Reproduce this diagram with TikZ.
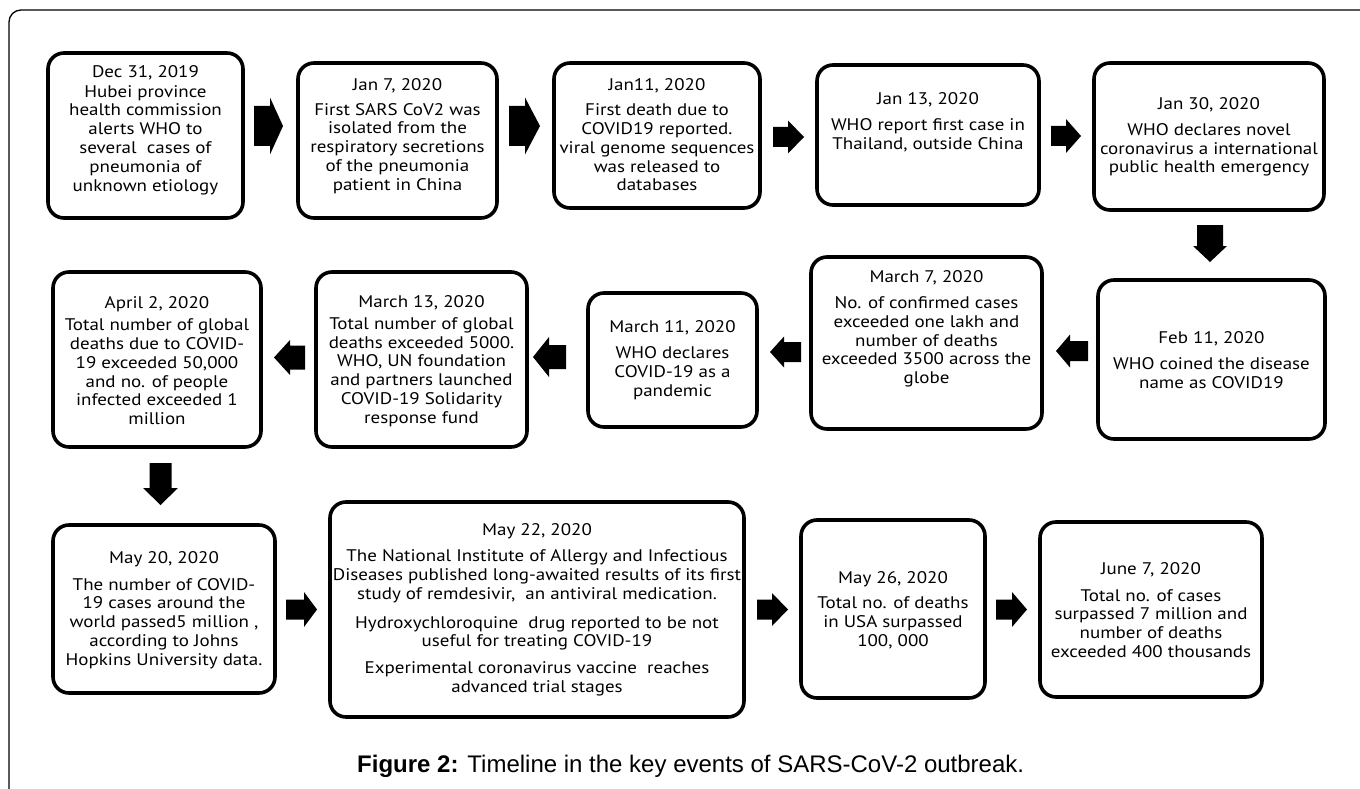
\documentclass[tikz,border=0pt]{standalone}
\usepackage{fontspec}
\newfontfamily\boxfont[FakeStretch=1.13]{PT Sans}
\newfontfamily\capfont{Liberation Sans}
\newcommand{\harrow}[6]{%
  \fill (#1,#4-#5) -- (#2,#4-#5) -- (#2,#4-#6) -- (#3,#4) -- (#2,#4+#6) -- (#2,#4+#5) -- (#1,#4+#5) -- cycle;}
\newcommand{\varrow}[6]{%
  \fill (#4-#5,#1) -- (#4-#5,#2) -- (#4-#6,#2) -- (#4,#3) -- (#4+#6,#2) -- (#4+#5,#2) -- (#4+#5,#1) -- cycle;}
\tikzset{
  evbox/.style={draw=black, line width=3.6pt, rounded corners=16pt, fill=white, inner sep=0pt},
  evtext/.style={align=center, inner sep=0pt, font=\boxfont\fontsize{16.8}{18.8}\selectfont},
}
\begin{document}
\begin{tikzpicture}[x=1pt,y=-1pt]
\fill[white] (0,0) rectangle (1360,789);
\useasboundingbox (0,0) rectangle (1360,789);
% outer frame
\draw[line width=1.3pt, rounded corners=12pt] (9,789) -- (9,10) -- (1360,10);

% row 1
\node[evbox, minimum width=195pt, minimum height=165pt] (b1) at (145.5,135.5) {};
\node[evtext] (t1) at (145.5,130) {Dec 31, 2019\\[1pt]Hubei province\\health commission\\alerts WHO to\\several \ cases of\\pneumonia of\\unknown etiology};
\node[evbox, minimum width=199pt, minimum height=155pt] (b2) at (397.5,140.5) {};
\node[evtext] (t2) at (397.5,136) {Jan 7, 2020\\[6pt]First SARS CoV2 was\\isolated from the\\respiratory secretions\\of the pneumonia\\patient in China};
\node[evbox, minimum width=206pt, minimum height=145pt] (b3) at (657,135.5) {};
\node[evtext] (t3) at (657,135) {Jan11, 2020\\[6pt]First death due to\\COVID19 reported.\\viral genome sequences\\was released to\\databases};
\node[evbox, minimum width=222pt, minimum height=140pt] (b4) at (928,135) {};
\node[evtext] (t4) at (928,122) {Jan 13, 2020\\[7pt]WHO report first case in\\Thailand, outside China};
\node[evbox, minimum width=230pt, minimum height=147pt] (b5) at (1209,136.5) {};
\node[evtext] (t5) at (1209,137) {Jan 30, 2020\\[7pt]WHO declares novel\\coronavirus a international\\public health emergency};

% row 2
\node[evbox, minimum width=227pt, minimum height=159pt] (b6) at (1211.5,359.5) {};
\node[evtext] (t6) at (1211.5,360) {Feb 11, 2020\\[7pt]WHO coined the disease\\name as COVID19};
\node[evbox, minimum width=231pt, minimum height=172pt] (b7) at (926.5,343) {};
\node[evtext] (t7) at (926.5,329) {March 7, 2020\\[7pt]No. of confirmed cases\\exceeded one lakh and\\number of deaths\\exceeded 3500 across the\\globe};
\node[evbox, minimum width=169pt, minimum height=134pt] (b8) at (672.5,360) {};
\node[evtext] (t8) at (672.5,360) {March 11, 2020\\[8pt]WHO declares\\COVID-19 as a\\pandemic};
\node[evbox, minimum width=211pt, minimum height=175pt] (b9) at (421.5,359.5) {};
\node[evtext] (t9) at (421.5,361) {March 13, 2020\\[3pt]Total number of global\\deaths exceeded 5000.\\WHO, UN foundation\\and partners launched\\COVID-19 Solidarity\\response fund};
\node[evbox, minimum width=208pt, minimum height=175pt] (b10) at (157,359.5) {};
\node[evtext] (t10) at (157,361) {April 2, 2020\\[3pt]Total number of global\\deaths due to COVID-\\19 exceeded 50,000\\and no. of people\\infected exceeded 1\\million};

% row 3
\node[evbox, minimum width=222pt, minimum height=168pt] (b11) at (164,609) {};
\node[evtext] (t11) at (164,610) {May 20, 2020\\[8pt]The number of COVID-\\19 cases around the\\world passed5 million ,\\according to Johns\\Hopkins University data.};
\node[evbox, minimum width=414pt, minimum height=215pt] (b12) at (537,609.5) {};
\node[evtext] (t12) at (537,610) {May 22, 2020\\[7pt]The National Institute of Allergy and Infectious\\Diseases published long-awaited results of its first\\study of remdesivir, \ an antiviral medication.\\[10pt]Hydroxychloroquine \ drug reported to be not\\useful for treating COVID-19\\[8pt]Experimental coronavirus vaccine \ reaches\\advanced trial stages};
\node[evbox, minimum width=184pt, minimum height=178pt] (b13) at (893,609) {};
\node[evtext] (t13) at (893,610) {May 26, 2020\\[7pt]Total no. of deaths\\in USA surpassed\\100, 000};
\node[evbox, minimum width=222pt, minimum height=175pt] (b14) at (1151,609.5) {};
\node[evtext] (t14) at (1151,610) {June 7, 2020\\[8pt]Total no. of cases\\surpassed 7 million and\\number of deaths\\exceeded 400 thousands};

% block arrows
\harrow{254}{270}{283}{126}{20}{28.5}
\harrow{509}{525}{540}{126}{20}{28.5}
\harrow{773}{788}{804}{137}{10}{16.5}
\harrow{1051}{1066}{1081}{136}{10}{17}
\varrow{225}{246}{262}{1210}{13}{17}
\harrow{1088}{1070}{1056}{351}{10}{16.5}
\harrow{801}{784}{770}{352}{10}{15.5}
\harrow{566}{549}{533}{357}{12}{20}
\harrow{305}{290}{274}{357.5}{12}{17.5}
\varrow{463}{488}{505}{160.5}{11}{17.5}
\harrow{286}{304}{317}{609.5}{10}{17.5}
\harrow{757}{772}{788}{609.5}{10}{16.5}
\harrow{996}{1012}{1027}{609.5}{10}{17.5}

% caption
\node[anchor=base west, inner sep=0pt] (cap) at (357,772) {\capfont\fontsize{24}{28}\selectfont\textbf{Figure 2:} Timeline in the key events of SARS-CoV-2 outbreak.};
\end{tikzpicture}
\end{document}
